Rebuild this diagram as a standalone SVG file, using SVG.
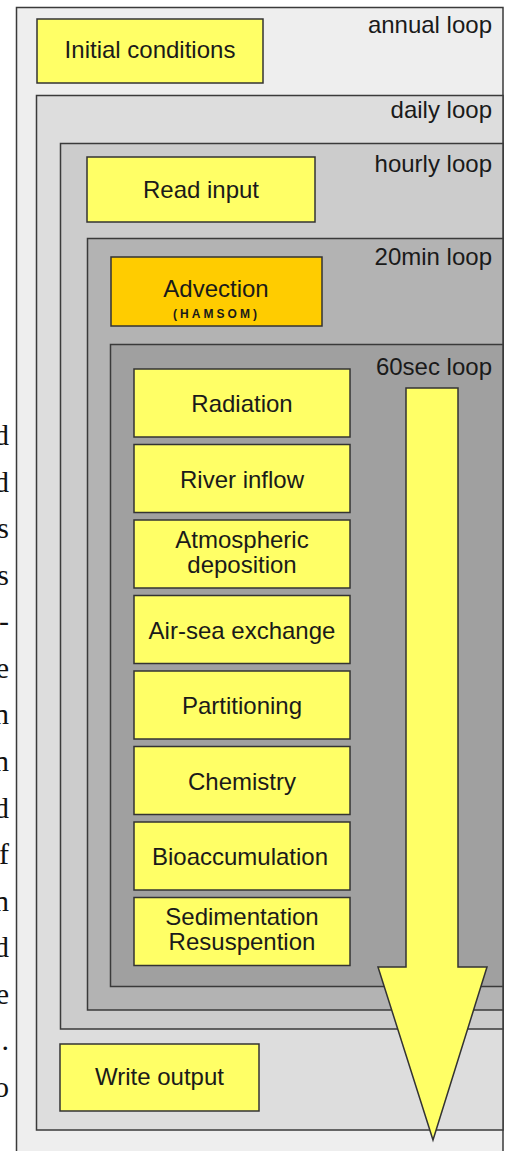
<svg xmlns="http://www.w3.org/2000/svg" width="506" height="1151" viewBox="0 0 506 1151">
  <defs>
    <style>
      .loop { stroke: #3a3a3a; stroke-width: 1.5; }
      .step { fill: #ffff66; stroke: #333333; stroke-width: 1.5; }
      .hot { fill: #ffcc00; stroke: #333333; stroke-width: 1.5; }
      .lbl { font-family: "Liberation Sans", Arial, sans-serif; font-size: 24px; fill: #1a1a1a; }
      .mid { text-anchor: middle; }
      .end { text-anchor: end; }
      .small { font-family: "Liberation Sans", Arial, sans-serif; font-size: 12px; font-weight: bold; fill: #1a1a1a; text-anchor: middle; }
      .page { font-family: "Liberation Serif", "Times New Roman", serif; font-size: 30px; fill: #111111; text-anchor: end; }
    </style>
  </defs>

  <rect width="506" height="1151" fill="#ffffff"/>

  <!-- fragments of the neighbouring page column -->
  <g id="page-margin-text">
    <text class="page" x="9" y="445">d</text>
    <text class="page" x="9" y="491.6">d</text>
    <text class="page" x="9" y="538.1">s</text>
    <text class="page" x="9" y="584.7">s</text>
    <text class="page" x="9" y="631.3">-</text>
    <text class="page" x="9" y="677.9">e</text>
    <text class="page" x="9" y="724.4">n</text>
    <text class="page" x="9" y="771">n</text>
    <text class="page" x="9" y="817.6">d</text>
    <text class="page" x="9" y="864.1">f</text>
    <text class="page" x="9" y="910.7">n</text>
    <text class="page" x="9" y="957.3">d</text>
    <text class="page" x="9" y="1003.9">e</text>
    <text class="page" x="9" y="1050.4">.</text>
    <text class="page" x="9" y="1097">o</text>
  </g>

  <!-- nested time loops -->
  <g id="annual-loop">
    <rect class="loop" x="16.5" y="7.5" width="486.5" height="1160" fill="#eeeeee"/>
    <text class="lbl end" x="492" y="33">annual loop</text>
  </g>
  <g id="initial-conditions">
    <rect class="step" x="37" y="19" width="226" height="64"/>
    <text class="lbl mid" x="150" y="58">Initial conditions</text>
  </g>

  <g id="daily-loop">
    <rect class="loop" x="36.5" y="95.5" width="466.5" height="1034.5" fill="#dddddd"/>
    <text class="lbl end" x="492" y="118">daily loop</text>
  </g>
  <g id="write-output">
    <rect class="step" x="60" y="1044" width="199" height="67"/>
    <text class="lbl mid" x="159.5" y="1085">Write output</text>
  </g>

  <g id="hourly-loop">
    <rect class="loop" x="60.5" y="143.5" width="442.5" height="885.5" fill="#cccccc"/>
    <text class="lbl end" x="492" y="172">hourly loop</text>
  </g>
  <g id="read-input">
    <rect class="step" x="87" y="157" width="228" height="65"/>
    <text class="lbl mid" x="201" y="198">Read input</text>
  </g>

  <g id="loop-20min">
    <rect class="loop" x="87.5" y="238.5" width="415.5" height="771.5" fill="#b3b3b3"/>
    <text class="lbl end" x="492" y="265">20min loop</text>
  </g>
  <g id="advection">
    <rect class="hot" x="111" y="257" width="211" height="69"/>
    <text class="lbl mid" x="216" y="297">Advection</text>
    <text class="small" x="215" y="318" textLength="84" lengthAdjust="spacing">(HAMSOM)</text>
  </g>

  <g id="loop-60sec">
    <rect class="loop" x="110.5" y="344.5" width="392.5" height="642" fill="#a0a0a0"/>
    <text class="lbl end" x="492" y="375">60sec loop</text>
  </g>

  <!-- process steps inside the 60 s loop -->
  <g id="radiation">
    <rect class="step" x="134" y="369" width="216" height="68"/>
    <text class="lbl mid" x="242" y="412">Radiation</text>
  </g>
  <g id="river-inflow">
    <rect class="step" x="134" y="444.5" width="216" height="68"/>
    <text class="lbl mid" x="242" y="487.5">River inflow</text>
  </g>
  <g id="atmospheric-deposition">
    <rect class="step" x="134" y="520" width="216" height="68"/>
    <text class="lbl mid" x="242" y="548">Atmospheric</text>
    <text class="lbl mid" x="242" y="573">deposition</text>
  </g>
  <g id="air-sea-exchange">
    <rect class="step" x="134" y="595.5" width="216" height="68"/>
    <text class="lbl mid" x="242" y="638.5">Air-sea exchange</text>
  </g>
  <g id="partitioning">
    <rect class="step" x="134" y="671" width="216" height="68"/>
    <text class="lbl mid" x="242" y="714">Partitioning</text>
  </g>
  <g id="chemistry">
    <rect class="step" x="134" y="746.5" width="216" height="68"/>
    <text class="lbl mid" x="242" y="789.5">Chemistry</text>
  </g>
  <g id="bioaccumulation">
    <rect class="step" x="134" y="822" width="216" height="68"/>
    <text class="lbl mid" x="240" y="865">Bioaccumulation</text>
  </g>
  <g id="sedimentation-resuspention">
    <rect class="step" x="134" y="897.5" width="216" height="68"/>
    <text class="lbl mid" x="242" y="925">Sedimentation</text>
    <text class="lbl mid" x="242" y="950">Resuspention</text>
  </g>

  <!-- downward flow of the time step -->
  <g id="connectors">
    <polygon points="406,388 458,388 458,967 487,967 433,1140 378,967 406,967" fill="#ffff66" stroke="#333333" stroke-width="1.5" stroke-linejoin="miter"/>
  </g>
</svg>
